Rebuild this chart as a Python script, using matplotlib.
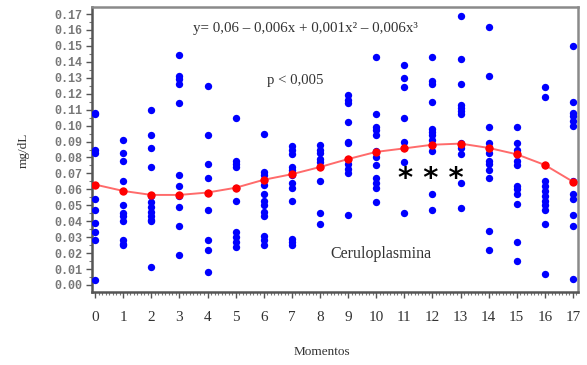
import matplotlib
matplotlib.use("Agg")
import matplotlib.pyplot as plt
from matplotlib.ticker import MultipleLocator

# Ceruloplasmina (mg/dL) par moment
momentos = list(range(18))
valores = [
    [0.108, 0.107, 0.085, 0.083, 0.054, 0.047, 0.039, 0.033, 0.028, 0.003],
    [0.091, 0.083, 0.078, 0.065, 0.050, 0.045, 0.043, 0.040, 0.028, 0.026, 0.025],
    [0.110, 0.094, 0.086, 0.074, 0.056, 0.052, 0.049, 0.046, 0.043, 0.041, 0.040, 0.011],
    [0.144, 0.131, 0.129, 0.126, 0.114, 0.069, 0.062, 0.056, 0.049, 0.037, 0.019],
    [0.125, 0.094, 0.076, 0.067, 0.058, 0.047, 0.028, 0.022, 0.008],
    [0.105, 0.078, 0.076, 0.074, 0.061, 0.053, 0.033, 0.030, 0.027, 0.024],
    [0.095, 0.071, 0.069, 0.066, 0.063, 0.057, 0.053, 0.050, 0.046, 0.043, 0.031, 0.028, 0.025],
    [0.087, 0.085, 0.082, 0.074, 0.072, 0.069, 0.064, 0.061, 0.053, 0.029, 0.027, 0.025],
    [0.088, 0.085, 0.083, 0.079, 0.077, 0.074, 0.065, 0.045, 0.038],
    [0.119, 0.116, 0.114, 0.102, 0.090, 0.089, 0.079, 0.076, 0.073, 0.070, 0.044],
    [0.143, 0.107, 0.099, 0.097, 0.094, 0.084, 0.080, 0.075, 0.067, 0.064, 0.061, 0.052],
    [0.138, 0.130, 0.124, 0.105, 0.090, 0.086, 0.077, 0.045],
    [0.143, 0.128, 0.126, 0.115, 0.098, 0.096, 0.094, 0.091, 0.088, 0.084, 0.057, 0.047],
    [0.169, 0.142, 0.126, 0.113, 0.111, 0.109, 0.107, 0.089, 0.086, 0.082, 0.064, 0.048],
    [0.162, 0.131, 0.099, 0.089, 0.086, 0.083, 0.078, 0.076, 0.072, 0.067, 0.034, 0.022],
    [0.099, 0.089, 0.085, 0.082, 0.078, 0.075, 0.062, 0.060, 0.057, 0.051, 0.027, 0.015],
    [0.124, 0.118, 0.075, 0.065, 0.062, 0.059, 0.056, 0.053, 0.050, 0.047, 0.038, 0.007],
    [0.150, 0.115, 0.108, 0.106, 0.103, 0.100, 0.065, 0.057, 0.054, 0.044, 0.037, 0.004],
]
# valeurs ajustées (courbe rouge)
ajuste = [0.063, 0.059, 0.0565, 0.0565, 0.058, 0.061, 0.066, 0.0695, 0.074,
          0.079, 0.0835, 0.0857, 0.088, 0.0887, 0.086, 0.082, 0.0753, 0.0648]

fig = plt.figure(figsize=(5.87, 3.65), dpi=100)
ax = fig.add_axes([92 / 587, 1 - 292 / 365, (578 - 92) / 587, (292 - 7) / 365])

for m, vals in zip(momentos, valores):
    ax.scatter([m] * len(vals), vals, s=28, color="#0000ff", zorder=3, linewidths=0)

ax.plot(momentos, ajuste, color="#ff6b6b", lw=1.4, zorder=4)
ax.scatter(momentos, ajuste, s=36, color="#ff0000", zorder=5, linewidths=0)

ax.set_xlim(-0.11, 17.18)
ax.set_ylim(-0.0044, 0.1744)

ax.xaxis.set_major_locator(MultipleLocator(1))
ax.xaxis.set_minor_locator(MultipleLocator(0.125))
ax.yaxis.set_major_locator(MultipleLocator(0.01))
ax.yaxis.set_minor_locator(MultipleLocator(0.005))
ax.set_yticklabels([f"{v:.2f}" for v in ax.get_yticks()])

ax.tick_params(axis="y", which="major", length=4, width=1, color="#555555",
               labelsize=8.5, labelcolor="#777777", pad=3)
ax.tick_params(axis="x", which="major", length=4, width=1, color="#555555",
               labelsize=11, labelcolor="#333333", pad=10)
ax.tick_params(which="minor", length=2.5, width=0.8, color="#777777")
for lab in ax.get_yticklabels():
    lab.set_family("Liberation Mono")
    lab.set_weight("bold")
for lab in ax.get_xticklabels():
    lab.set_family("Liberation Serif")

for side in ["left", "bottom"]:
    ax.spines[side].set_color("#555555")
    ax.spines[side].set_linewidth(1.8)
for side in ["top", "right"]:
    ax.spines[side].set_color("#8a8a8a")
    ax.spines[side].set_linewidth(1.8)

serif = "Liberation Serif"
ax.text(7.47, 0.1612, "y= 0,06 – 0,006x + 0,001x² – 0,006x³", family=serif,
        fontsize=10.8, color="#333333", ha="center", va="center")
ax.text(7.12, 0.1286, "p < 0,005", family=serif, fontsize=10.6,
        color="#333333", ha="center", va="center")
ax.text(10.18, 0.0194, "Ceruloplasmina", family=serif, fontsize=11.5,
        color="#333333", ha="center", va="center")
ax.text(11.95, 0.0665, "* * *", fontsize=21, weight="bold", color="black",
        ha="center", va="center", zorder=6)

fig.text(322 / 587, 1 - 352 / 365, "Momentos", family=serif, fontsize=9.5,
         color="#333333", ha="center", va="center")
fig.text(24 / 587, 1 - 150 / 365, "mg/dL", family=serif, fontsize=9.5,
         color="#333333", ha="center", va="center", rotation=90)

fig.savefig("out.png", dpi=100)
